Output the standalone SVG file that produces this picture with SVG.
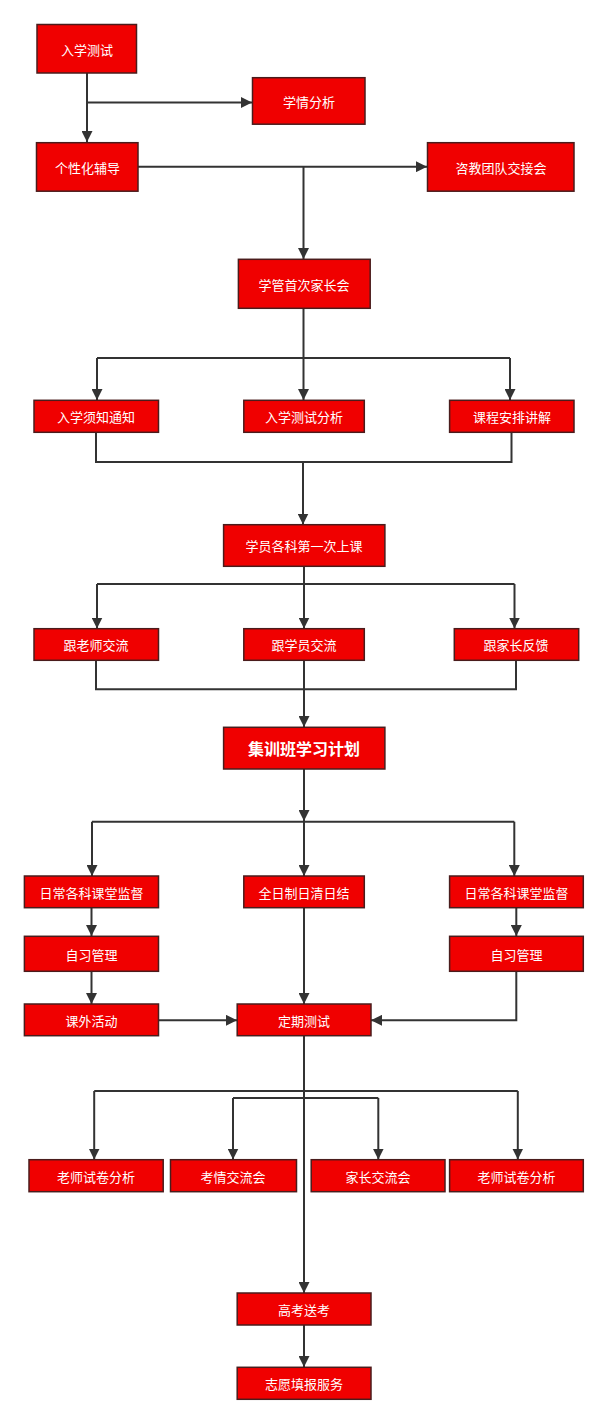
<svg xmlns="http://www.w3.org/2000/svg" width="604" height="1423" viewBox="0 0 604 1423">
<style>
.b{fill:#f00000;stroke:#4a1c1c;stroke-width:1.5}
.t{fill:#fff;font-family:"Noto Sans CJK SC","Noto Sans",sans-serif;font-size:13px;text-anchor:middle;dominant-baseline:central}
.tb{font-size:16px;font-weight:bold}
.c{fill:none;stroke:#333;stroke-width:2}
.ca{fill:none;stroke:#333;stroke-width:2;marker-end:url(#ah)}
</style>
<defs>
<marker id="ah" viewBox="0 0 10 10" refX="10" refY="5" markerWidth="5.5" markerHeight="5.5" orient="auto" markerUnits="strokeWidth">
<path d="M0,0 L10,5 L0,10 z" fill="#333"/>
</marker>
</defs>
<rect width="604" height="1423" fill="#fff"/>
<g id="connectors">
<path class="ca" d="M87,73 V142"/>
<path class="ca" d="M87,102.5 H252"/>
<path class="ca" d="M138,166.7 H427"/>
<path class="ca" d="M303.5,166.7 V259"/>
<path class="c" d="M303.5,308 V358"/>
<path class="c" d="M97,358 H510"/>
<path class="ca" d="M97,358 V400"/>
<path class="ca" d="M303.5,358 V400"/>
<path class="ca" d="M510,358 V400"/>
<path class="c" d="M96,432 V462 H511.5 V432"/>
<path class="ca" d="M303,462 V524.5"/>
<path class="c" d="M304,566 V584"/>
<path class="c" d="M97,584 H514.5"/>
<path class="ca" d="M97,584 V628.5"/>
<path class="ca" d="M304,584 V628.5"/>
<path class="ca" d="M514.5,584 V628.5"/>
<path class="c" d="M96,660 V689.3 H516 V660"/>
<path class="ca" d="M304,660 V727"/>
<path class="ca" d="M304,769 V821"/>
<path class="c" d="M92,821.7 H514.3"/>
<path class="ca" d="M92,821.7 V876"/>
<path class="ca" d="M304,821.7 V876"/>
<path class="ca" d="M514.3,821.7 V876"/>
<path class="ca" d="M91.5,907.7 V936"/>
<path class="ca" d="M91.5,971.3 V1004"/>
<path class="ca" d="M158.5,1020.3 H237"/>
<path class="ca" d="M304,907.7 V1004"/>
<path class="ca" d="M516.3,907.7 V936"/>
<path class="ca" d="M516.3,971.3 V1020.3 H371"/>
<path class="ca" d="M304,1035.7 V1293"/>
<path class="c" d="M94.2,1091 H517.8"/>
<path class="ca" d="M94.2,1091 V1159.5"/>
<path class="ca" d="M517.8,1091 V1159.5"/>
<path class="c" d="M233,1098 H378.3"/>
<path class="ca" d="M233,1098 V1159.5"/>
<path class="ca" d="M378.3,1098 V1159.5"/>
<path class="ca" d="M304,1325 V1367"/>
</g>
<g id="n1"><rect class="b" x="37" y="24.5" width="99.5" height="48.5"/><text class="t" x="87" y="49">入学测试</text></g>
<g id="n2"><rect class="b" x="252.5" y="77.7" width="112.5" height="46.5"/><text class="t" x="309" y="101">学情分析</text></g>
<g id="n3"><rect class="b" x="36.5" y="142.7" width="101.5" height="48.5"/><text class="t" x="87.5" y="167">个性化辅导</text></g>
<g id="n4"><rect class="b" x="427.5" y="142.7" width="146.5" height="48.5"/><text class="t" x="501" y="167">咨教团队交接会</text></g>
<g id="n5"><rect class="b" x="238.4" y="259.3" width="131.8" height="49"/><text class="t" x="304" y="284">学管首次家长会</text></g>
<g id="n6"><rect class="b" x="34" y="400.3" width="124.5" height="32"/><text class="t" x="96" y="416.5">入学须知通知</text></g>
<g id="n7"><rect class="b" x="243.8" y="400.3" width="120.5" height="32"/><text class="t" x="304" y="416.5">入学测试分析</text></g>
<g id="n8"><rect class="b" x="449.6" y="400.3" width="124.4" height="32"/><text class="t" x="512" y="416.5">课程安排讲解</text></g>
<g id="n9"><rect class="b" x="223.6" y="524.7" width="161.3" height="41.6"/><text class="t" x="304" y="545.5">学员各科第一次上课</text></g>
<g id="n10"><rect class="b" x="34" y="628.7" width="124.5" height="31.6"/><text class="t" x="96" y="644.5">跟老师交流</text></g>
<g id="n11"><rect class="b" x="243.8" y="628.7" width="120.5" height="31.6"/><text class="t" x="304" y="644.5">跟学员交流</text></g>
<g id="n12"><rect class="b" x="454.3" y="628.7" width="124.4" height="31.6"/><text class="t" x="516" y="644.5">跟家长反馈</text></g>
<g id="n13"><rect class="b" x="223.6" y="727.3" width="161.3" height="41.7"/><text class="t tb" x="304" y="748">集训班学习计划</text></g>
<g id="n14"><rect class="b" x="24.4" y="876" width="134.1" height="31.7"/><text class="t" x="91.5" y="892">日常各科课堂监督</text></g>
<g id="n15"><rect class="b" x="243.8" y="876" width="120.5" height="31.7"/><text class="t" x="304" y="892">全日制日清日结</text></g>
<g id="n16"><rect class="b" x="449.6" y="876" width="133.7" height="31.7"/><text class="t" x="516.5" y="892">日常各科课堂监督</text></g>
<g id="n17"><rect class="b" x="24.4" y="936.3" width="134.1" height="35"/><text class="t" x="91.5" y="954">自习管理</text></g>
<g id="n18"><rect class="b" x="449.6" y="936.3" width="133.7" height="35"/><text class="t" x="516.5" y="954">自习管理</text></g>
<g id="n19"><rect class="b" x="24.4" y="1004" width="134.1" height="31.7"/><text class="t" x="91.5" y="1020">课外活动</text></g>
<g id="n20"><rect class="b" x="237.2" y="1004" width="133.8" height="31.7"/><text class="t" x="304" y="1020">定期测试</text></g>
<g id="n21"><rect class="b" x="29" y="1159.7" width="134.2" height="32"/><text class="t" x="96" y="1176">老师试卷分析</text></g>
<g id="n22"><rect class="b" x="170.5" y="1159.7" width="126" height="32"/><text class="t" x="233" y="1176">考情交流会</text></g>
<g id="n23"><rect class="b" x="311.2" y="1159.7" width="133.8" height="32"/><text class="t" x="378" y="1176">家长交流会</text></g>
<g id="n24"><rect class="b" x="449.6" y="1159.7" width="133.7" height="32"/><text class="t" x="516.5" y="1176">老师试卷分析</text></g>
<g id="n25"><rect class="b" x="237.2" y="1293" width="133.8" height="32"/><text class="t" x="304" y="1309">高考送考</text></g>
<g id="n26"><rect class="b" x="237.2" y="1367.3" width="133.8" height="32"/><text class="t" x="304" y="1383.5">志愿填报服务</text></g>
</svg>
